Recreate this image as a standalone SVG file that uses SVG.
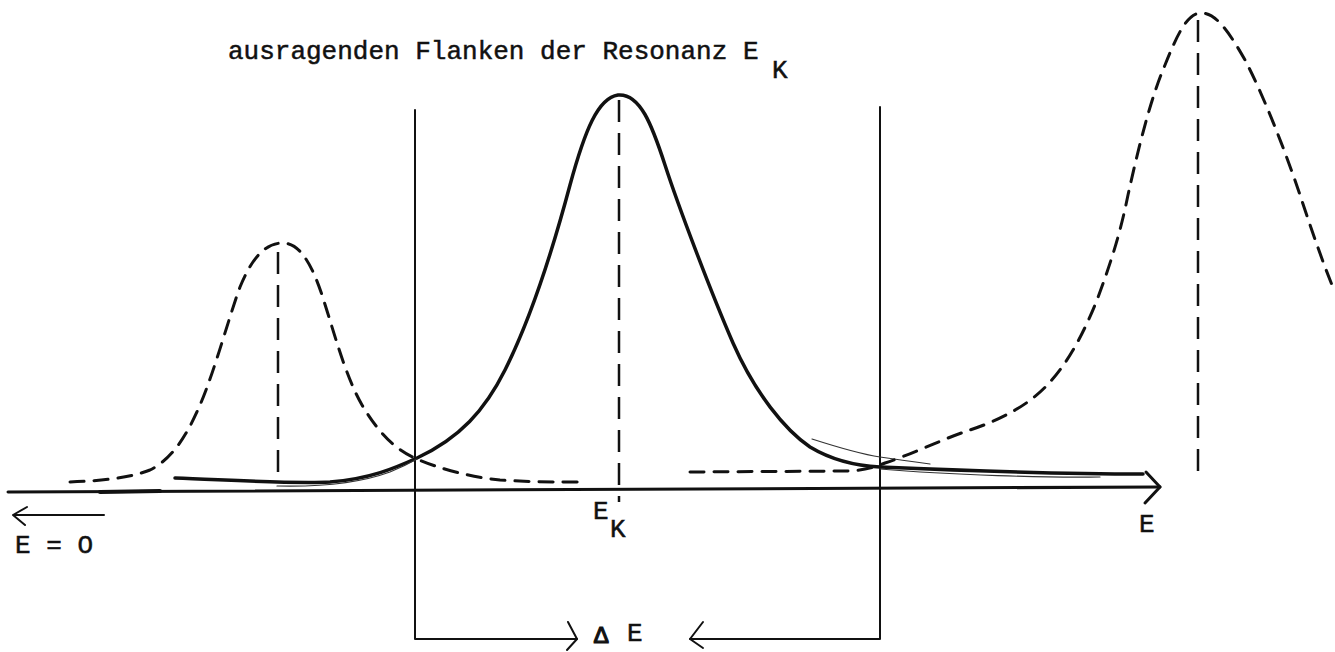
<svg xmlns="http://www.w3.org/2000/svg" width="1335" height="652" viewBox="0 0 1335 652">
<style>
  .t { font-family: "Liberation Mono", "DejaVu Sans Mono", monospace; font-size: 26px; fill: #111; stroke: #111; stroke-width: 0.5; }
  .ax { fill: none; stroke: #111; stroke-linecap: round; stroke-linejoin: round; }
  .dash { fill: none; stroke: #111; stroke-width: 3; stroke-dasharray: 14 10; stroke-linecap: round; }
  .vdash { fill: none; stroke: #111; stroke-width: 2.5; stroke-dasharray: 22 11; }
  .solid { fill: none; stroke: #111; stroke-width: 3.5; stroke-linecap: round; stroke-linejoin: round; }
  .thin { fill: none; stroke: #333; stroke-width: 1.2; stroke-linecap: round; }
</style>
<rect width="1335" height="652" fill="#fff"/>

<g id="title">
  <text class="t" x="228" y="59">ausragenden Flanken der Resonanz E</text>
  <text class="t" x="772" y="78">K</text>
</g>

<g id="axis">
  <path class="ax" stroke-width="3" d="M8,492 L1160,487"/>
  <path class="ax" stroke-width="4" d="M100,492 L160,491"/>
  <path class="ax" stroke-width="3" d="M1146,472 L1160,487 L1145,503"/>
  <path class="ax" stroke-width="2" d="M104,515 L13,515 M27,507 L13,515 L25,525"/>
</g>

<g id="window">
  <path class="ax" stroke-width="2" d="M415,110 L415,639 L577,639"/>
  <path class="ax" stroke-width="2" d="M568,622 L577,639 L567,650"/>
  <path class="ax" stroke-width="2" d="M880,107 L880,639 L690,639"/>
  <path class="ax" stroke-width="2" d="M703,622 L690,639 L703,648"/>
</g>

<g id="peak-left">
  <path class="dash" d="M70,482 C100,481 130,478 150,470 C170,460 185,440 200,405 C215,370 228,320 240,287 C252,258 265,243 283,243 C300,243 312,265 322,295 C335,335 345,375 362,405 C378,432 395,450 417,459 C440,469 470,477 500,480 C530,482 560,482 582,482"/>
  <path class="vdash" d="M278,252 L278,472"/>
</g>

<g id="peak-main">
  <path class="solid" d="M175,478 C230,480 290,484 330,482 C370,479 395,468 417,458 C460,438 485,410 505,370 C530,320 550,260 570,185 C585,130 598,98 618,95 C640,93 652,125 665,165 C678,205 710,290 733,343 C755,393 785,430 810,447 C835,462 860,466 880,467 C950,470 1050,474 1143,474"/>
  <path class="thin" d="M277,486 C320,487 360,483 390,472 C400,468 410,463 417,459"/>
  <path class="thin" d="M812,439 C840,448 860,454 880,457 C900,460 915,462 930,464"/>
  <path class="thin" d="M880,469 C950,475 1050,478 1100,477"/>
  <path class="vdash" d="M619,100 L619,502"/>
</g>

<g id="peak-right">
  <path class="dash" d="M690,472 L850,471 C865,470 875,467 885,463 C910,455 940,440 970,430 C1000,420 1030,405 1050,382 C1070,360 1085,330 1097,300 C1110,265 1120,235 1128,195 C1138,150 1150,100 1165,65 C1177,35 1187,14 1200,13 C1215,12 1228,30 1245,60 C1262,92 1285,150 1300,195 C1310,225 1320,255 1332,285"/>
  <path class="vdash" d="M1198,20 L1198,482"/>
</g>

<g id="labels">
  <text class="t" x="15" y="553">E = O</text>
  <text class="t" x="593" y="519">E</text>
  <text class="t" x="610" y="537">K</text>
  <text class="t" x="1139" y="532">E</text>
  <text class="t" x="594" y="643" style="font-size:24px;stroke-width:1.2">Δ</text>
  <text class="t" x="627" y="641">E</text>
</g>
</svg>
